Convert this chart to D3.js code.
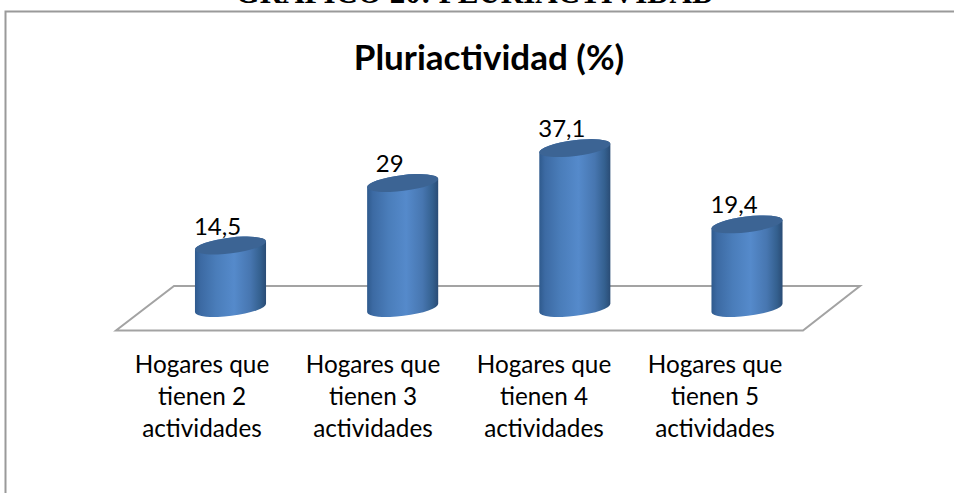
<!DOCTYPE html>
<html>
<head>
<meta charset="utf-8">
<script src="https://cdn.jsdelivr.net/npm/d3@7"></script>
<style>html,body{margin:0;padding:0;background:#fff;overflow:hidden}svg{display:block}</style>
</head>
<body>
<script>
const categories = ["Hogares que tienen 2 actividades","Hogares que tienen 3 actividades","Hogares que tienen 4 actividades","Hogares que tienen 5 actividades"];
const categoryLines = [["Hogares que","tienen 2","actividades"],["Hogares que","tienen 3","actividades"],["Hogares que","tienen 4","actividades"],["Hogares que","tienen 5","actividades"]];
const values = [14.5, 29, 37.1, 19.4];
const valueLabels = ["14,5","29","37,1","19,4"];
const chartTitle = "Pluriactividad (%)";
const pageHeading = "GRÁFICO 20: PLURIACTIVIDAD";

const W = 954, H = 493;
const svg = d3.select("body").append("svg").attr("width", W).attr("height", H);
const defs = svg.append("defs");
const grad = defs.append("linearGradient").attr("id","cyl").attr("x1","0").attr("x2","1").attr("y1","0").attr("y2","0");
[[0,"#2f5a8d"],[0.08,"#3c6aa3"],[0.3,"#4a7dba"],[0.55,"#558acb"],[0.78,"#4776b0"],[0.92,"#34608f"],[1,"#2a4c75"]]
  .forEach(([o,c]) => grad.append("stop").attr("offset",o).attr("stop-color",c));

const x = d3.scalePoint().domain(categories).range([230.5, 747]);
const labelX = d3.scalePoint().domain(categories).range([202, 715]);
const y = d3.scaleLinear().domain([0, 40]).range([308, 135.6]);

const rx = 35.8, ry = 7.9, tilt = -7;
const dx = rx * Math.cos(tilt * Math.PI / 180), dy = rx * Math.sin(tilt * Math.PI / 180);

// page heading, clipped by the top of the window
svg.append("text").attr("x", 475).attr("y", 3).attr("text-anchor","middle")
  .attr("font-family","'Liberation Serif'").attr("font-weight","bold").attr("font-size",31)
  .attr("fill","#000").text(pageHeading);

// chart frame: only top and left edges are in view
svg.append("path").attr("d", d3.line()([[5.5,H],[5.5,11.5],[W,11.5]]))
  .attr("fill","none").attr("stroke","#9a9a9a").attr("stroke-width",2);

svg.append("text").attr("x", 489).attr("y", 70).attr("text-anchor","middle")
  .attr("font-family","Lato").attr("font-weight","bold").attr("font-size",35)
  .attr("fill","#000").text(chartTitle);

// floor
svg.append("path").attr("d", d3.line()([[174,286],[860,286],[803,330.5],[116,330.5]]) + "Z")
  .attr("fill","#fff").attr("stroke","#a3a3a3").attr("stroke-width",2);

// cylinders
const bars = svg.append("g").selectAll("g").data(categories).join("g");
bars.append("path")
  .attr("d", (c,i) => {
    const cx = x(c), t = y(values[i]), b = y(0);
    return `M${cx-dx},${t-dy}L${cx-dx},${b-dy}A${rx},${ry} ${tilt} 0 0 ${cx+dx},${b+dy}L${cx+dx},${t+dy}A${rx},${ry} ${tilt} 0 0 ${cx-dx},${t-dy}Z`;
  })
  .attr("fill","url(#cyl)");
bars.append("ellipse")
  .attr("cx",0).attr("cy",0).attr("rx",rx).attr("ry",ry)
  .attr("transform",(c,i) => `translate(${x(c)},${y(values[i])}) rotate(${tilt})`)
  .attr("fill","#3c6494");

// value labels
bars.append("text")
  .attr("x",(c,i) => x(c) - 13).attr("y",(c,i) => y(values[i]) - 11)
  .attr("text-anchor","middle").attr("font-family","Lato").attr("font-size",24).attr("fill","#000")
  .text((c,i) => valueLabels[i]);

// category labels
const lab = svg.append("g").selectAll("text").data(categories).join("text")
  .attr("text-anchor","middle").attr("font-family","Lato").attr("font-size",24.3).attr("fill","#000");
lab.selectAll("tspan").data((c,i) => categoryLines[i].map(t => ({t, c}))).join("tspan")
  .attr("x", d => labelX(d.c)).attr("y",(d,j) => 373 + j * 32).text(d => d.t);
</script>
</body>
</html>
